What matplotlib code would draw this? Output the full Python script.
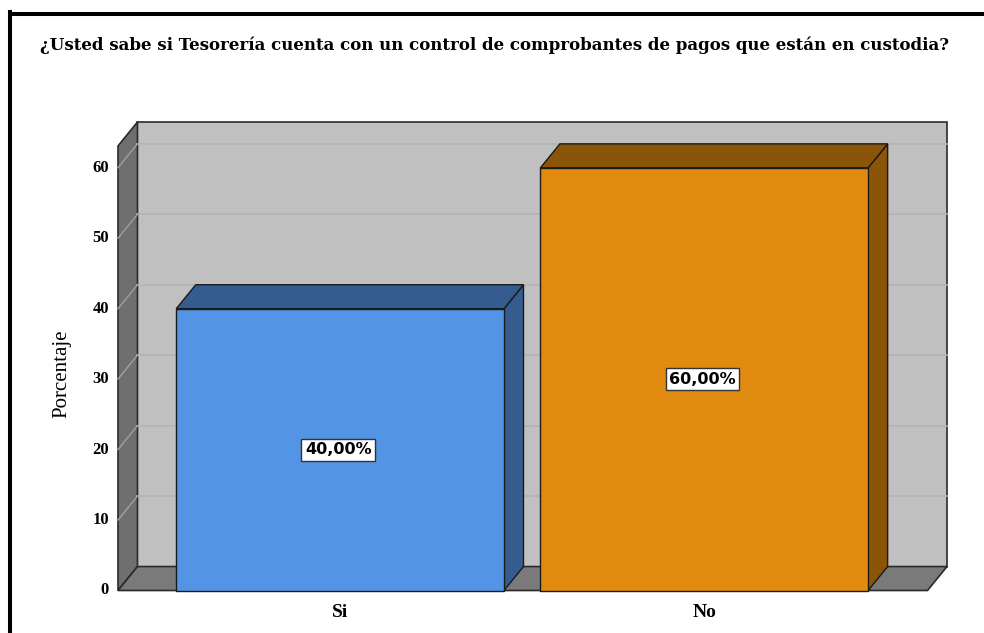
import numpy as np
import matplotlib
matplotlib.use('Agg')
import matplotlib.pyplot as plt
from matplotlib.patches import Polygon, Rectangle

# chart data
categories = ['Si', 'No']
percentages = [40.0, 60.0]
bar_labels = ['40,00%', '60,00%']
y_ticks = [0, 10, 20, 30, 40, 50, 60]
title = '¿Usted sabe si Tesorería cuenta con un control de comprobantes de pagos que están en custodia?'
y_title = 'Porcentaje'

front_colors = ['#5494e4', '#e08a10']
dark_colors = ['#345c8e', '#8a5509']

W, H = 984, 633
fig = plt.figure(figsize=(W / 100, H / 100), dpi=100)

# pseudo 3D geometry (category units / value units)
x_left, x_right = -0.61, 1.613
y_top = 63.1
dx, dy = 0.0535, 3.4
bar_w = 0.9

ax = fig.add_axes([118 / W, (H - 590.5) / H, (947 - 118) / W, (590.5 - 122) / H])
ax.set_xlim(x_left, x_right + dx)
ax.set_ylim(0, y_top + dy)
ax.axis('off')

edge = '#2a2a2a'

# back wall
ax.add_patch(Rectangle((x_left + dx, dy), x_right - x_left, y_top, facecolor='#c0c0c0',
                       edgecolor=edge, lw=1.2, clip_on=False, zorder=1))
# left wall
ax.add_patch(Polygon([(x_left, 0), (x_left, y_top), (x_left + dx, y_top + dy), (x_left + dx, dy)],
                     closed=True, facecolor='#6f6f6f', edgecolor=edge, lw=1.2, clip_on=False, zorder=1))
# floor
ax.add_patch(Polygon([(x_left, 0), (x_right, 0), (x_right + dx, dy), (x_left + dx, dy)],
                     closed=True, facecolor='#7a7a7a', edgecolor=edge, lw=1.2, clip_on=False, zorder=1))

# gridlines
for t in y_ticks[1:]:
    ax.plot([x_left + dx, x_right + dx], [t + dy, t + dy], color='#b3b3b3', lw=1.2, zorder=2, clip_on=False)
    ax.plot([x_left, x_left + dx], [t, t + dy], color='#a0a0a0', lw=1.0, zorder=2, clip_on=False)

# bars
for i, v in enumerate(percentages):
    l, r = i - bar_w / 2, i + bar_w / 2
    ax.add_patch(Polygon([(r, 0), (r + dx, dy), (r + dx, v + dy), (r, v)], closed=True,
                         facecolor=dark_colors[i], edgecolor='#1a1a1a', lw=1.0, zorder=3, clip_on=False))
    ax.add_patch(Polygon([(l, v), (r, v), (r + dx, v + dy), (l + dx, v + dy)], closed=True,
                         facecolor=dark_colors[i], edgecolor='#1a1a1a', lw=1.0, zorder=3, clip_on=False))
    ax.add_patch(Rectangle((l, 0), bar_w, v, facecolor=front_colors[i],
                           edgecolor='#1a1a1a', lw=1.0, zorder=4, clip_on=False))
    ax.text(i - 0.005, v / 2, bar_labels[i], ha='center', va='center', zorder=5,
            fontsize=11.5, fontweight='bold', family='DejaVu Sans',
            bbox=dict(boxstyle='square,pad=0.22', facecolor='white', edgecolor='#333333', lw=1.0))
    ax.annotate(categories[i], xy=(i, 0), xytext=(0, -22), textcoords='offset pixels',
                ha='center', va='center', fontsize=14, fontweight='bold', family='Liberation Serif',
                annotation_clip=False)

# y tick labels
for t in y_ticks:
    ax.annotate(str(t), xy=(x_left, t), xytext=(-9, 0), textcoords='offset pixels',
                ha='right', va='center', fontsize=12, fontweight='bold', family='Liberation Serif',
                annotation_clip=False)

fig.text(62 / W, 1 - 374 / H, y_title, rotation=90, ha='center', va='center',
         fontsize=15, family='Liberation Serif')

fig.text(40 / W, 1 - 45 / H, title, ha='left', va='center', fontsize=12.0,
         fontweight='bold', family='DejaVu Serif')

# outer frame lines (top and left)
fig.add_artist(plt.Line2D([10.3 / W, 1], [1 - 13.5 / H, 1 - 13.5 / H], color='black', lw=2.9))
fig.add_artist(plt.Line2D([10.3 / W, 10.3 / W], [0, 1 - 12 / H], color='black', lw=2.9))

fig.savefig('out.png', dpi=100)
